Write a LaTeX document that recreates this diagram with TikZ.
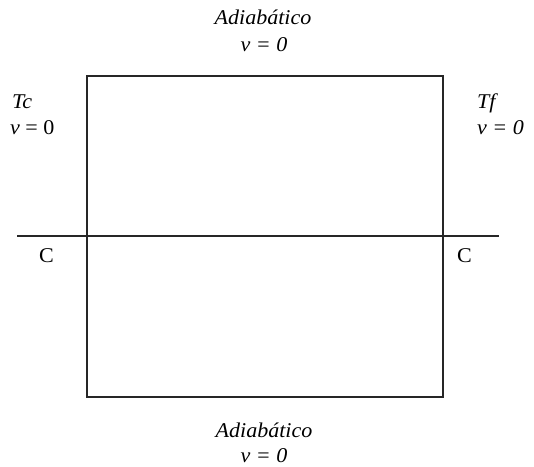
\documentclass[tikz,border=0pt]{standalone}
\usepackage{fontspec}
\setmainfont[FakeStretch=1.05]{Liberation Serif}
\begin{document}
\begin{tikzpicture}[x=1pt,y=-1pt,
  lbl/.style={inner sep=0pt,font=\fontsize{21}{25}\selectfont},
  wall/.style={line width=2pt,black!85}]
\useasboundingbox (0,0) rectangle (534,466);
\coordinate (tl) at (87,75.5);
\coordinate (br) at (442.5,396.5);
\coordinate (hl) at (17,235.5);
\coordinate (hr) at (499,235.5);
\draw[wall] (tl) rectangle (br);
\draw[wall] (hl) -- (hr);
\node[lbl,anchor=base] (ta) at (263,24) {\itshape Adiabático};
\node[lbl,anchor=base] (tv) at (264,51) {\itshape v = 0};
\node[lbl,anchor=base] (ba) at (264,437) {\itshape Adiabático};
\node[lbl,anchor=base] (bv) at (264,462) {\itshape v = 0};
\node[lbl,anchor=base west] (tc) at (12,108) {\itshape Tc};
\node[lbl,anchor=base west] (lv) at (10,134) {\textit{v} = 0};
\node[lbl,anchor=base west] (tf) at (477,108) {\itshape Tf};
\node[lbl,anchor=base west] (rv) at (477,134) {\itshape v = 0};
\node[lbl,anchor=base west] (cl) at (39,262) {C};
\node[lbl,anchor=base west] (cr) at (457,262) {C};
\end{tikzpicture}
\end{document}
